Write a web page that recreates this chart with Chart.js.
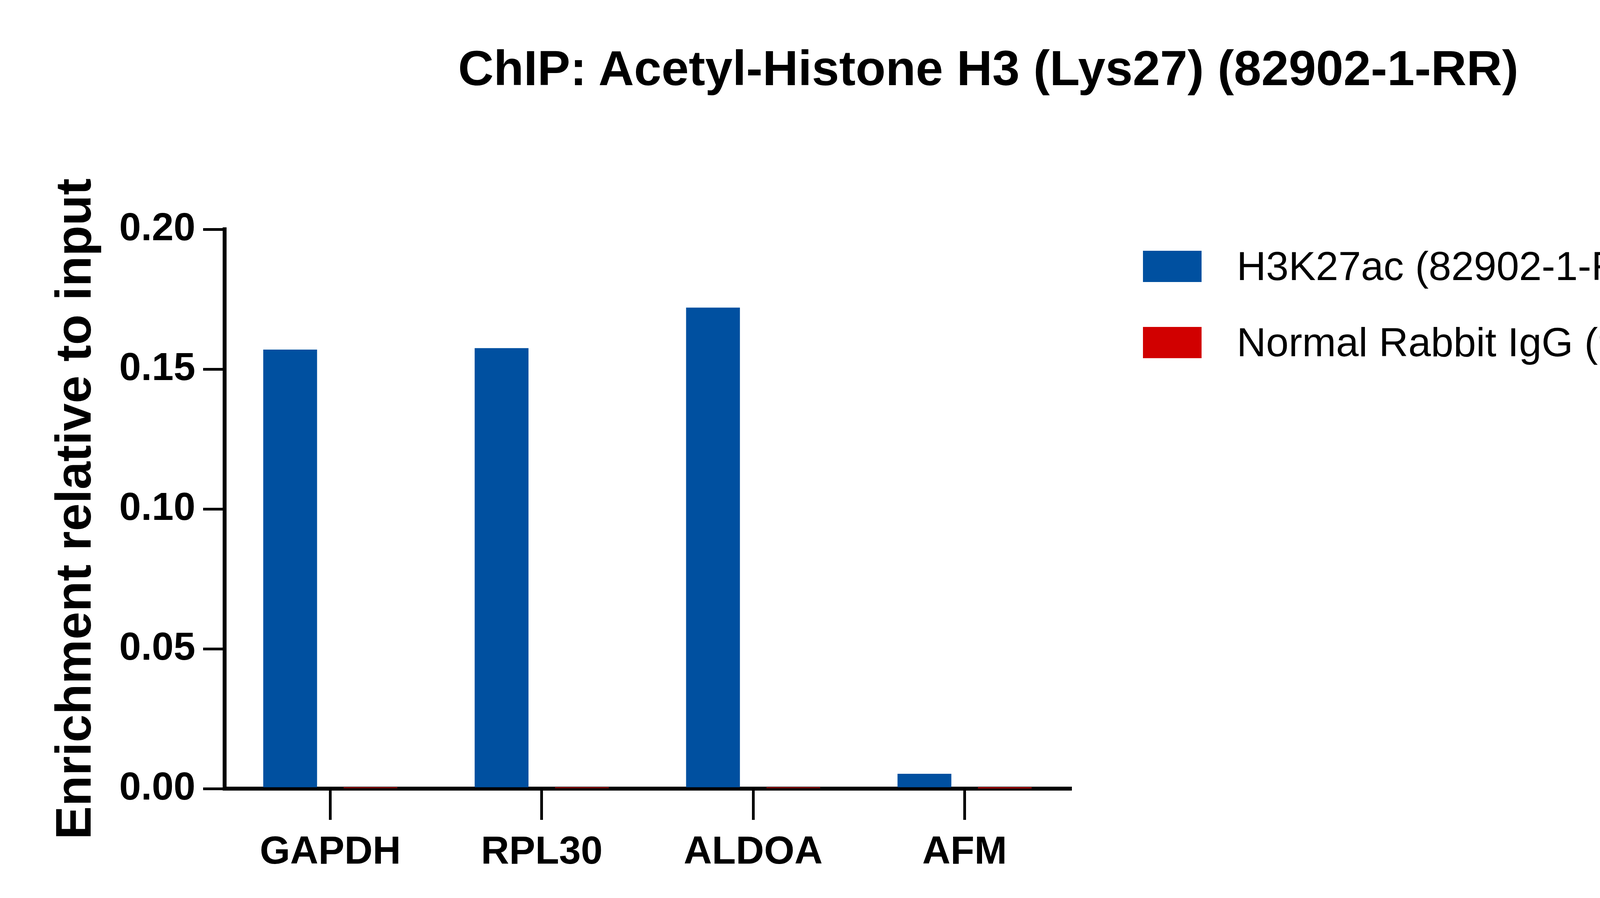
<!DOCTYPE html>
<html><head><meta charset="utf-8">
<script src="https://cdn.jsdelivr.net/npm/chart.js@4/dist/chart.umd.min.js"></script>
<style>
html,body{margin:0;padding:0;background:#fff;}
#wrap{position:relative;width:5000px;height:2299px;font-family:"Liberation Sans",Arial,sans-serif;}
#title{position:absolute;left:0;top:100px;width:5060px;text-align:center;font-weight:bold;font-size:126px;line-height:150px;}
.leg{position:absolute;left:2926px;font-size:104px;display:flex;align-items:center;}
.sw{width:150px;height:80px;margin-right:90px;}
canvas{position:absolute;left:0;top:0;}
</style></head>
<body><div id="wrap">
<canvas id="c" width="5000" height="2299"></canvas>
<div id="title">ChIP: Acetyl-Histone H3 (Lys27) (82902-1-RR)</div>
<div class="leg" style="top:622px"><div class="sw" style="background:#0050A0"></div>H3K27ac (82902-1-RR)</div>
<div class="leg" style="top:817px"><div class="sw" style="background:#D10000"></div>Normal Rabbit IgG (98136-1-RR)</div>
</div>
<script>
const categories = ["GAPDH","RPL30","ALDOA","AFM"];
const h3k27ac = [0.157, 0.1575, 0.172, 0.0053];
const igg = [0.0002, 0.0002, 0.0002, 0.0001];
const yTicks = [0, 0.05, 0.10, 0.15, 0.20];
const seriesNames = ["H3K27ac (82902-1-RR)","Normal Rabbit IgG (98136-1-RR)"];

new Chart(document.getElementById('c'), {
  type:'bar',
  data:{labels:categories,datasets:[
    {label:seriesNames[0],data:h3k27ac,backgroundColor:'#0050A0',categoryPercentage:0.76,barPercentage:0.67},
    {label:seriesNames[1],data:igg,backgroundColor:'#D10000',categoryPercentage:0.76,barPercentage:0.67}
  ]},
  options:{
    responsive:false,animation:false,devicePixelRatio:1,
    layout:{padding:{left:120,top:587,right:2260,bottom:0}},
    plugins:{legend:{display:false},title:{display:false},tooltip:{enabled:false}},
    scales:{
      x:{
        afterFit:s=>{s.height=280;},
        border:{width:10,color:'#000'},
        grid:{drawOnChartArea:false,offset:false,tickLength:80,lineWidth:7,color:'#000'},
        ticks:{padding:24,color:'#000',font:{family:'Liberation Sans',weight:'bold',size:100}}
      },
      y:{
        min:0,max:0.2,
        afterFit:s=>{s.width=575-120;},
        afterBuildTicks:s=>{s.ticks=yTicks.map(v=>({value:v}));},
        border:{width:10,color:'#000'},
        grid:{drawOnChartArea:false,tickLength:55,lineWidth:7,color:'#000'},
        ticks:{padding:20,color:'#000',callback:v=>v.toFixed(2),font:{family:'Liberation Sans',weight:'bold',size:100}},
        title:{display:true,text:'Enrichment relative to input',color:'#000',padding:{top:0,bottom:0},font:{family:'Liberation Sans',weight:'bold',size:128}}
      }
    }
  }
});
</script></body></html>
